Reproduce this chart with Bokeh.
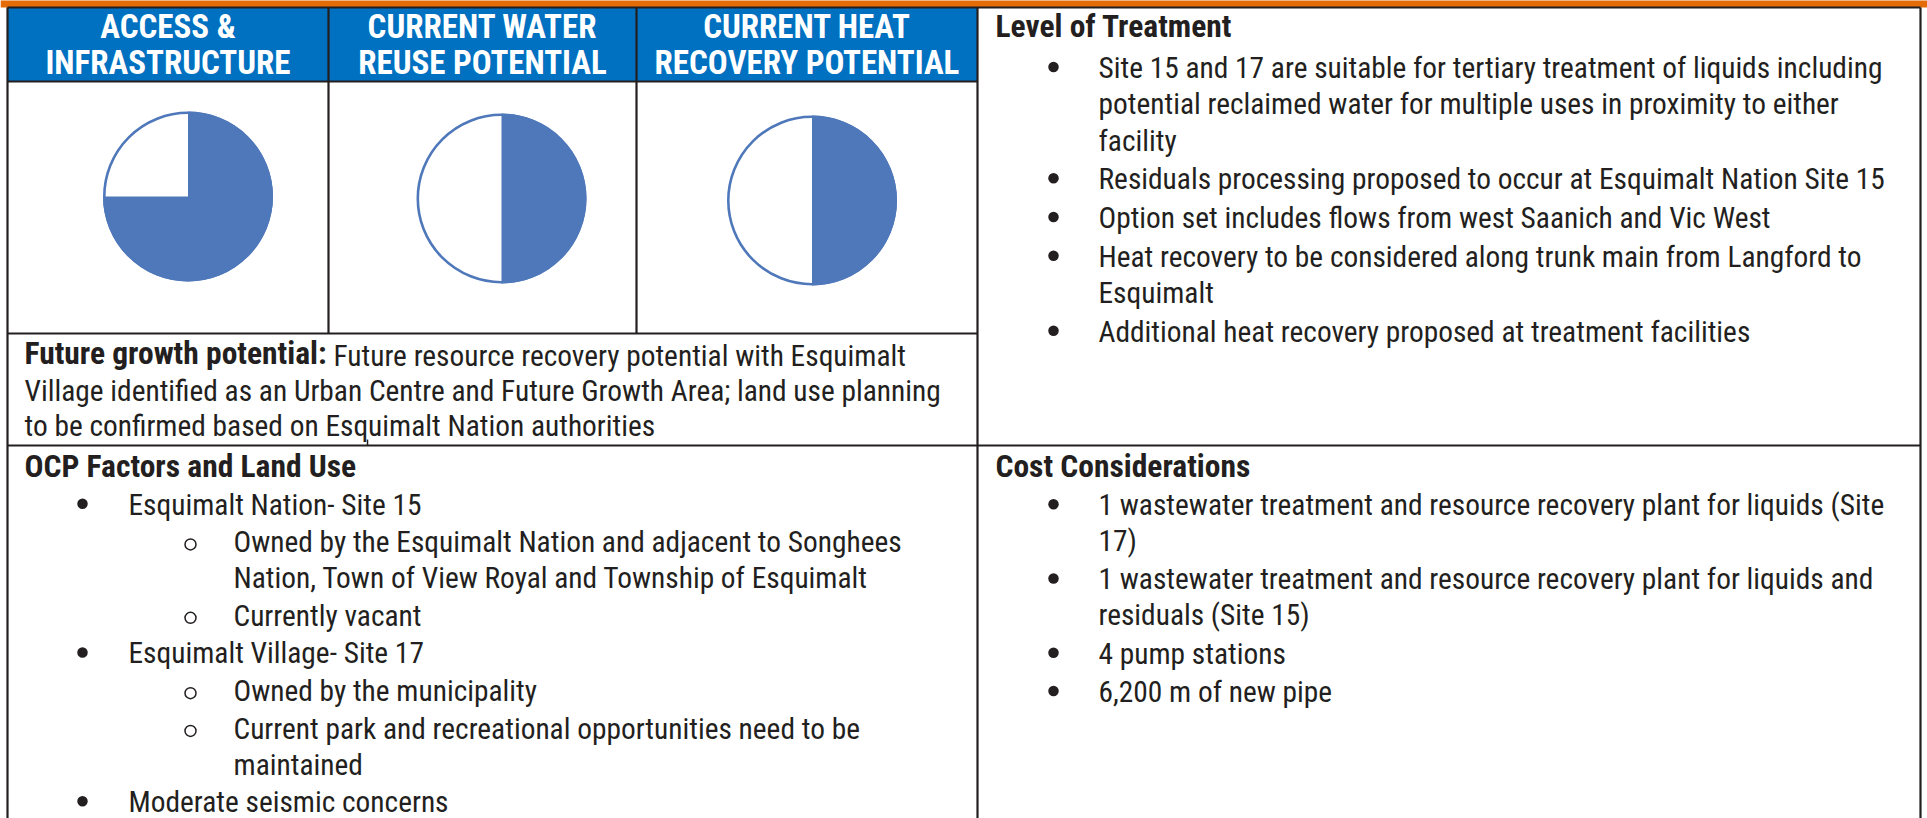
import math
from bokeh.plotting import figure
from bokeh.models import Range1d
from bokeh.core.properties import value
from bokeh.embed import file_html
from bokeh.resources import INLINE

# ---------------- data ----------------
criteria_line1 = ["ACCESS &", "CURRENT WATER", "CURRENT HEAT"]
criteria_line2 = ["INFRASTRUCTURE", "REUSE POTENTIAL", "RECOVERY POTENTIAL"]
criteria_scores = [0.75, 0.5, 0.5]  # filled fraction of each Harvey ball

future_label = "Future growth potential:"
future_lines = [
    "Future resource recovery potential with Esquimalt",
    "Village identified as an Urban Centre and Future Growth Area; land use planning",
    "to be confirmed based on Esquimalt Nation authorities",
]

treatment_heading = "Level of Treatment"
treatment_items = [
    (1, ["Site 15 and 17 are suitable for tertiary treatment of liquids including",
         "potential reclaimed water for multiple uses in proximity to either",
         "facility"]),
    (1, ["Residuals processing proposed to occur at Esquimalt Nation Site 15"]),
    (1, ["Option set includes flows from west Saanich and Vic West"]),
    (1, ["Heat recovery to be considered along trunk main from Langford to",
         "Esquimalt"]),
    (1, ["Additional heat recovery proposed at treatment facilities"]),
]

ocp_heading = "OCP Factors and Land Use"
ocp_items = [
    (1, ["Esquimalt Nation- Site 15"]),
    (2, ["Owned by the Esquimalt Nation and adjacent to Songhees",
         "Nation, Town of View Royal and Township of Esquimalt"]),
    (2, ["Currently vacant"]),
    (1, ["Esquimalt Village- Site 17"]),
    (2, ["Owned by the municipality"]),
    (2, ["Current park and recreational opportunities need to be",
         "maintained"]),
    (1, ["Moderate seismic concerns"]),
]

cost_heading = "Cost Considerations"
cost_items = [
    (1, ["1 wastewater treatment and resource recovery plant for liquids (Site",
         "17)"]),
    (1, ["1 wastewater treatment and resource recovery plant for liquids and",
         "residuals (Site 15)"]),
    (1, ["4 pump stations"]),
    (1, ["6,200 m of new pipe"]),
]

# ---------------- layout (page pixel coordinates, y downwards) ----------------
W, H = 1927, 818


def fx(x):
    return x


def fy(y):
    return H - y


FONT = value("Roboto Condensed")
FS = "29.4px"
FSB = "31.5px"
FSH = "33px"
DY_R = 8.6    # baseline correction for regular text
DY_B = 11.5   # baseline correction for bold text
DY_H = 12.0   # baseline correction for header text
TXT = "#231F20"
LINE = "#231F20"
BLUE = "#0070C0"
ORANGE = "#E36C09"
PIE = "#4F78BA"

XL, C1, C2, C3, XR = 7, 328, 636, 977, 1920
Y_TOP, Y_HEAD, Y_PIE, Y_MID, Y_BOT = 7, 81, 333, 445, 840

p = figure(width=W, height=H, x_range=Range1d(0, W), y_range=Range1d(0, H),
           output_backend="svg", toolbar_location=None, min_border=0,
           x_axis_type=None, y_axis_type=None)
p.grid.visible = False
p.outline_line_color = None
p.background_fill_color = "white"
p.border_fill_color = "white"

# orange band and blue header
p.quad(left=[fx(0)], right=[fx(W)], top=[fy(-2)], bottom=[fy(Y_TOP)],
       fill_color=ORANGE, line_color=None)
p.quad(left=[fx(XL)], right=[fx(C3)], top=[fy(Y_TOP)], bottom=[fy(Y_HEAD)],
       fill_color=BLUE, line_color=None)

# Harvey balls
cell_edges = [XL, C1, C2, C3]
pie_dx = [20, 19, 5]
pie_cy = [196, 198, 200]
R = 85
pcx = [fx((cell_edges[i] + cell_edges[i + 1]) / 2 + pie_dx[i]) for i in range(3)]
pcy = [fy(c) for c in pie_cy]
p.circle(x=pcx, y=pcy, radius=R - 1.3, radius_units="screen",
         fill_color="white", line_color=PIE, line_width=2.6)
p.wedge(x=pcx, y=pcy, radius=R, radius_units="screen",
        start_angle=[math.pi / 2 - 2 * math.pi * v for v in criteria_scores],
        end_angle=[math.pi / 2] * 3, direction="anticlock",
        fill_color=PIE, line_color=None)

# table rules
hx0 = [XL, XL, XL, XL]
hx1 = [XR, C3, C3, XR]
hy = [Y_TOP, Y_HEAD, Y_PIE, Y_MID]
p.segment(x0=[fx(v) for v in hx0], x1=[fx(v) for v in hx1],
          y0=[fy(v) for v in hy], y1=[fy(v) for v in hy],
          line_color=LINE, line_width=2.2)
p.segment(x0=[fx(367)], x1=[fx(367)], y0=[fy(439)], y1=[fy(Y_MID)],
          line_color=LINE, line_width=1.5)
vx = [XL, C1, C2, C3, XR]
vy0 = [Y_TOP] * 5
vy1 = [Y_BOT, Y_PIE, Y_PIE, Y_BOT, Y_BOT]
p.segment(x0=[fx(v) for v in vx], x1=[fx(v) for v in vx],
          y0=[fy(v) for v in vy0], y1=[fy(v) for v in vy1],
          line_color=LINE, line_width=2.2)

# header texts
centers = [fx((cell_edges[i] + cell_edges[i + 1]) / 2) for i in range(3)]
p.text(x=centers * 2, y=[fy(38 - DY_H)] * 3 + [fy(73.5 - DY_H)] * 3,
       text=criteria_line1 + criteria_line2,
       text_font=FONT, text_font_size=FSH, text_font_style="bold",
       text_color="white", text_align="center", text_baseline="alphabetic")

# future growth paragraph
p.text(x=[fx(24)], y=[fy(364 - DY_B)], text=[future_label], text_font=FONT,
       text_font_size=FSB, text_font_style="bold", text_color=TXT,
       text_baseline="alphabetic")
p.text(x=[fx(333), fx(24), fx(24)],
       y=[fy(364 - DY_R), fy(399 - DY_R), fy(434 - DY_R)],
       text=future_lines, text_font=FONT, text_font_size=FS,
       text_color=TXT, text_baseline="alphabetic")


def section(heading, items, hx, hy, head_dy, gap_new, gap_cont, xs):
    p.text(x=[fx(hx)], y=[fy(hy + head_dy - DY_B)], text=[heading],
           text_font=FONT, text_font_size=FSB, text_font_style="bold",
           text_color=TXT, text_baseline="alphabetic")
    tx, ty, tt = [], [], []
    b1x, b1y, b2x, b2y = [], [], [], []
    y = hy
    for level, lines in items:
        bx, tx0 = xs[level]
        for j, line in enumerate(lines):
            y += gap_new if j == 0 else gap_cont
            tx.append(fx(tx0))
            ty.append(fy(y - DY_R))
            tt.append(line)
            if j == 0:
                if level == 1:
                    b1x.append(fx(bx))
                    b1y.append(fy(y - 9.5))
                else:
                    b2x.append(fx(bx))
                    b2y.append(fy(y - 6.5))
    p.text(x=tx, y=ty, text=tt, text_font=FONT, text_font_size=FS,
           text_color=TXT, text_baseline="alphabetic")
    if b1x:
        p.scatter(x=b1x, y=b1y, size=10.5, marker="circle",
                  fill_color=TXT, line_color=None)
    if b2x:
        p.scatter(x=b2x, y=b2y, size=11, marker="circle",
                  fill_color="white", line_color=TXT, line_width=1.5)


section(treatment_heading, treatment_items, 995, 37.3, 0, 38.7, 36.3,
        {1: (1053, 1098)})
section(ocp_heading, ocp_items, 24, 475, 2, 37.7, 35.7,
        {1: (82, 128), 2: (190, 233)})
section(cost_heading, cost_items, 995, 475, 2, 38.3, 35.9,
        {1: (1053, 1098)})

open("out.html", "w").write(file_html(p, INLINE))
